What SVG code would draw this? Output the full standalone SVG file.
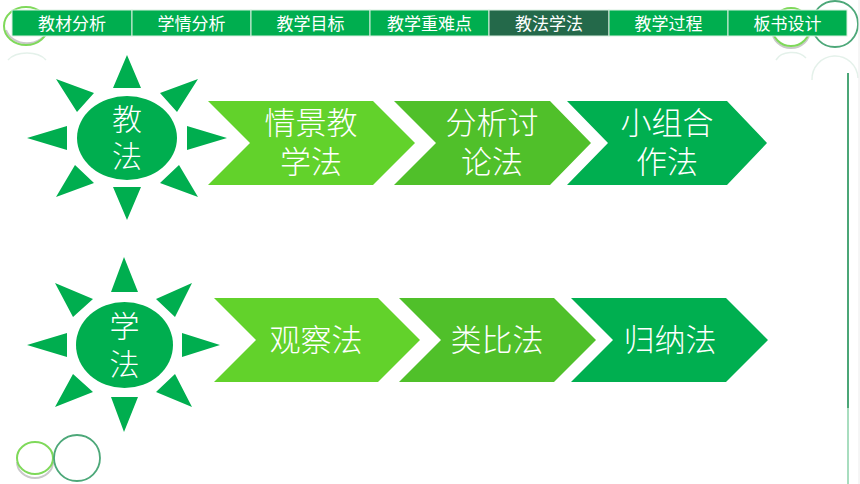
<svg xmlns="http://www.w3.org/2000/svg" width="860" height="484" viewBox="0 0 860 484">
<style>
.nav{fill:#00AE4F;stroke:#d8f0e0;stroke-width:1}
.nav-on{fill:#24694A;stroke:#d8f0e0;stroke-width:1}
.navt{font-family:"Noto Sans CJK SC","Noto Sans",sans-serif;font-size:17px;fill:#ffffff;text-anchor:middle}
.sun{fill:#00AE4F}
.sunt{font-family:"Noto Sans CJK SC",sans-serif;font-weight:300;font-size:30px;fill:#ffffff;text-anchor:middle}
.ct{font-family:"Noto Sans CJK SC",sans-serif;font-weight:300;font-size:31px;fill:#ffffff;text-anchor:middle}
.c1{fill:#62D22B}
.c2{fill:#50C02A}
.c3{fill:#00AF50}
.ring-lg{fill:none;stroke:#7FD95A;stroke-width:2}
.ring-dg{fill:none;stroke:#4DA879;stroke-width:1.8}
.shadow{fill:none;stroke:#c9c9c9;stroke-width:2}
.faint{fill:none;stroke:#e4f1ea;stroke-width:1.5}
</style>
<rect width="860" height="484" fill="#ffffff"/>
<g id="decor">
  <path class="shadow" d="M6,30 A22,19 0 0 0 48,30"/>
  <ellipse class="ring-lg" cx="26" cy="26" rx="22" ry="19"/>
  <path class="faint" d="M8,60 A22,14 0 0 1 46,60"/>
  <path class="shadow" d="M772,30 A19,18 0 0 0 810,30"/>
  <ellipse class="ring-lg" cx="791" cy="27" rx="19" ry="19"/>
  <path class="faint" d="M776,60 A17,12 0 0 1 806,58"/>
  <circle class="ring-dg" cx="835" cy="24" r="23"/>
  <path class="faint" d="M812,80 A23,23 0 0 1 858,78"/>
  <path class="shadow" d="M17,462 A18,16 0 0 0 53,462"/>
  <ellipse class="ring-lg" cx="35" cy="458" rx="18" ry="16"/>
  <circle class="ring-dg" cx="77" cy="458" r="23"/>
  <line x1="848" y1="73" x2="848" y2="408" stroke="#4BA677" stroke-width="2"/>
  <line x1="848" y1="408" x2="848" y2="484" stroke="#A8DDBF" stroke-width="2"/>
  <line x1="859" y1="0" x2="859" y2="484" stroke="#ececec" stroke-width="1"/>
</g>
<g id="nav">
  <rect class="nav" x="12" y="10" width="120" height="26"/>
  <rect class="nav" x="132" y="10" width="119" height="26"/>
  <rect class="nav" x="251" y="10" width="119" height="26"/>
  <rect class="nav" x="370" y="10" width="119" height="26"/>
  <rect class="nav-on" x="489" y="10" width="120" height="26"/>
  <rect class="nav" x="609" y="10" width="119" height="26"/>
  <rect class="nav" x="728" y="10" width="119" height="26"/>
  <text class="navt" x="72" y="30">教材分析</text>
  <text class="navt" x="191.5" y="30">学情分析</text>
  <text class="navt" x="310.5" y="30">教学目标</text>
  <text class="navt" x="429.5" y="30">教学重难点</text>
  <text class="navt" x="549" y="30">教法学法</text>
  <text class="navt" x="668.5" y="30">教学过程</text>
  <text class="navt" x="787.5" y="30">板书设计</text>
</g>
<g id="sun-jiaofa">
  <path class="sun" d="M127,55L113,88L141,88Z M127,220L113,187L141,187Z M27,138L67,126L67,150Z M227,138L187,126L187,150Z M56,79L94,93L77,112Z M198,79L160,93L177,112Z M56,197L75,165L94,183Z M198,197L179,165L160,183Z"/>
  <ellipse class="sun" cx="127" cy="138" rx="50" ry="42"/>
  <text class="sunt" x="127" y="130">教</text>
  <text class="sunt" x="127" y="167">法</text>
</g>
<g id="jiaofa-1">
  <polygon class="c1" points="208,101 373,101 415,143 373,185 208,185 250,143"/>
  <text class="ct" x="311" y="134">情景教</text>
  <text class="ct" x="311" y="173">学法</text>
</g>
<g id="jiaofa-2">
  <polygon class="c2" points="394,101 550,101 591,143 550,185 394,185 436,143"/>
  <text class="ct" x="492" y="134">分析讨</text>
  <text class="ct" x="492" y="173">论法</text>
</g>
<g id="jiaofa-3">
  <polygon class="c3" points="567,101 727,101 767,143 727,185 567,185 608,143"/>
  <text class="ct" x="667" y="134">小组合</text>
  <text class="ct" x="667" y="173">作法</text>
</g>
<g id="sun-xuefa">
  <path class="sun" d="M124,257L111,292L138,292Z M124,432L111,397L138,397Z M27,345L67,333L67,357Z M220,345L182,333L182,357Z M55,283L93,299L73,317Z M192,283L156,299L175,317Z M55,407L73,374L93,392Z M192,407L175,374L156,392Z"/>
  <ellipse class="sun" cx="124.5" cy="345" rx="48.5" ry="43"/>
  <text class="sunt" x="124.5" y="337">学</text>
  <text class="sunt" x="124.5" y="375">法</text>
</g>
<g id="xuefa-1">
  <polygon class="c1" points="214,298 378,298 420,340 378,382 214,382 256,340"/>
  <text class="ct" x="316" y="351">观察法</text>
</g>
<g id="xuefa-2">
  <polygon class="c2" points="399,298 554,298 596,340 554,382 399,382 441,340"/>
  <text class="ct" x="497" y="351">类比法</text>
</g>
<g id="xuefa-3">
  <polygon class="c3" points="571,298 726,298 768,340 726,382 571,382 613,340"/>
  <text class="ct" x="670" y="351">归纳法</text>
</g>
<g id="connectors"/>
</svg>
